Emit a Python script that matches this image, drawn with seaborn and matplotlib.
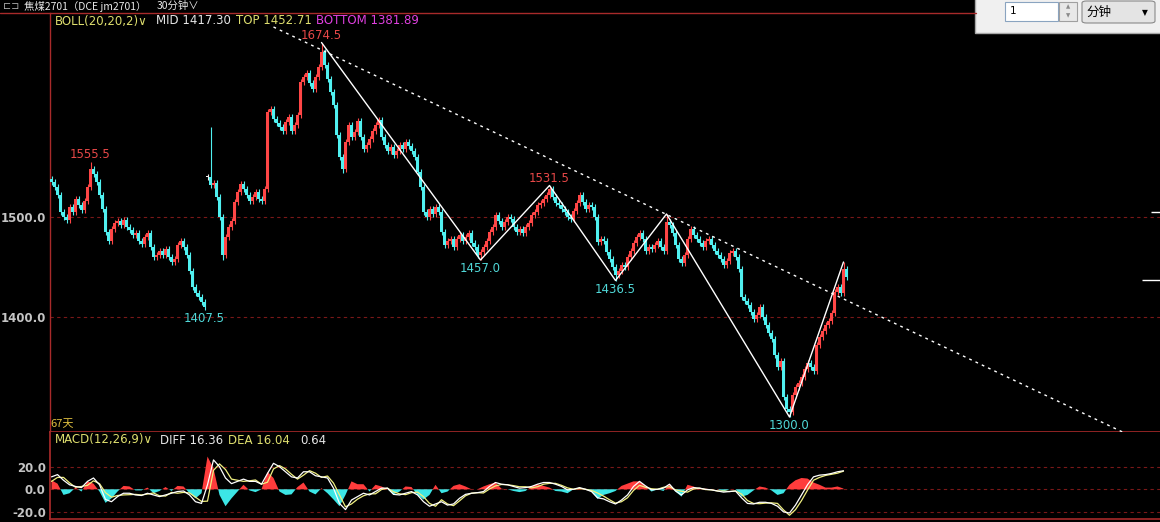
import numpy as np
import pandas as pd
import matplotlib
matplotlib.use("Agg")
import matplotlib.pyplot as plt
import seaborn as sns
from matplotlib.patches import Rectangle, FancyBboxPatch
from matplotlib.lines import Line2D

# ---------------- data ----------------
closes = [
    1535, 1530, 1522, 1505, 1500, 1497, 1510, 1505, 1518, 1512,
    1507, 1516, 1530, 1548, 1543, 1535, 1522, 1508, 1485, 1476,
    1488, 1494, 1496, 1492, 1497, 1490, 1487, 1482, 1484, 1476,
    1473, 1480, 1484, 1470, 1460, 1462, 1466, 1462, 1468, 1460,
    1455, 1458, 1472, 1476, 1470, 1462, 1446, 1430, 1424, 1420,
    1415, 1410, 1540, 1532, 1534, 1520, 1500, 1462, 1480, 1490,
    1496, 1515, 1525, 1533, 1528, 1522, 1516, 1520, 1525, 1518,
    1516, 1528, 1605, 1608, 1598, 1594, 1590, 1586, 1595, 1600,
    1586, 1592, 1602, 1635, 1640, 1644, 1634, 1628, 1640, 1650,
    1665, 1652, 1638, 1625, 1612, 1582, 1560, 1548, 1575, 1592,
    1580, 1585, 1596, 1580, 1568, 1572, 1578, 1586, 1592, 1597,
    1580, 1572, 1566, 1570, 1562, 1566, 1572, 1568, 1575, 1571,
    1566, 1560, 1545, 1530, 1505, 1500, 1508, 1503, 1510, 1505,
    1485, 1472, 1476, 1478, 1470, 1478, 1482, 1476, 1480, 1484,
    1474, 1470, 1462, 1465, 1470, 1476, 1485, 1490, 1502, 1496,
    1490, 1495, 1500, 1498, 1490, 1485, 1488, 1484, 1490, 1494,
    1502, 1505, 1512, 1514, 1518, 1522, 1528, 1520, 1514, 1512,
    1508, 1505, 1500, 1498, 1506, 1514, 1522, 1515, 1508, 1512,
    1510, 1500, 1475, 1478, 1476, 1465, 1458, 1450, 1442, 1446,
    1452, 1450, 1460, 1466, 1474, 1480, 1484, 1478, 1466, 1470,
    1468, 1472, 1476, 1470, 1466, 1495, 1492, 1484, 1472, 1458,
    1454, 1462, 1478, 1488, 1482, 1478, 1474, 1470, 1476, 1478,
    1472, 1466, 1462, 1458, 1452, 1456, 1464, 1466, 1460, 1448,
    1420, 1416, 1412, 1405, 1398, 1402, 1410, 1400, 1392, 1384,
    1378, 1362, 1350, 1356, 1320, 1308, 1305, 1322, 1330, 1334,
    1340, 1348, 1354, 1350, 1346, 1372, 1380, 1386, 1392, 1396,
    1404, 1425, 1430, 1424, 1448, 1440,
]
first_open = 1538
gap_opens = {52: 1540, 53: 1540}
high_marks = {13: 1555.5, 53: 1590.0, 90: 1674.5, 166: 1531.5, 205: 1503.0, 264: 1455.0}
low_marks = {51: 1407.5, 57: 1457.0, 97: 1544.0, 143: 1457.0, 188: 1436.5, 246: 1300.0}

zigzag_idx = [90, 143, 166, 188, 205, 246, 264]
zigzag_px = [1674.5, 1457.0, 1531.5, 1436.5, 1503.0, 1300.0, 1455.0]

peak_labels = {13: 1555.5, 90: 1674.5, 166: 1531.5}
trough_labels = {51: 1407.5, 143: 1457.0, 188: 1436.5, 246: 1300.0}

trend_idx = [74, 357]
trend_px = [1690, 1285]

price_ticks = [1400, 1500]
macd_ticks = [-20, 0, 20]
right_marks = [1505, 1437]

# MACD values, one reading every second bar
diff_vals = [
    11, 13, 8, 4, 2.5, 1.5, 7, 10, 4, -9,
    -11, -6.5, -3.5, -3.5, -5, -5.5, -3.5, -5, -6.5, -5,
    -3.5, -2, -1.5, -5, -11, -12.5, 4, 26, 20, 10,
    5, 7, 9, 7, 7, 4.5, 14, 23, 20, 15.5,
    11, 10, 15.5, 15.5, 12, 11, 10, 1, -12.5, -18,
    -9.5, -6.5, -3.5, -5, -2, 1, 1, -4.5, -5, -3.5,
    -2, -5, -11, -15, -13, -11, -14,
    -13, -8, -4.5, -3.5, -3, -2, 2.5, 6, 4.5, 4,
    2.5, 1, 1.5, 2.5, 4.5, 6, 6, 4.5, 2.5, -0.5,
    0, 1.5, 0, -2, -7.5, -8.5, -11, -13, -9.5, -5,
    2.5, 7, 3, -0.5, 0, 1, 4.5, -1.5, -5, -0.5,
    1.5, 1, 0, -0.5, -1.5, -2.5, -2, -1.5, -7.5, -12.5,
    -13, -11.5, -11.5, -12.5, -15, -20, -21, -14, -5, 4,
    11, 12.5, 13, 14, 15.5, 16.36,
]
hist_vals = [
    8, 5, -5, -3.5, 1.5, -2, 7, 5, -2, -12,
    -8, -2, 3, 2.5, -1, -1, 1.5, -3.5, -1.5, 2,
    -1.5, 3, 2.5, -3.5, -8, -3.5, 29, 18.5, -5, -15,
    -8, -2, 4, -1, -2.5, 0, 15.5, 10, -2, -5,
    -4.5, 2, 6, -2, -4.5, 1, -3.5, -9, -15, -5,
    7, 4.5, 4.5, -2, 4, 2.5, 0, -4.5, -2, 2.5,
    2, -5, -9, -5, 4, -3.5, -2,
    3, 4.5, 2.5, 0, 0, 2.5, 4.5, 6, 0.5, 0,
    -1.5, -2.5, -1.5, 2.5, 4.5, 3, 1.5, -1.5, -2, -3.5,
    0, 1.5, 0, -2, -8.5, -5, -3.5, -1.5, 3, 5,
    7, 7, 2.5, -2, 0, -1.5, 4.5, -2, -6.5, 4,
    2.5, 0, 0.5, 0, 0, -2, 0, 0, -6.5, -5,
    -1, 2.5, 1.5, -1, -5, -3.5, 4, 8, 10, 9.5,
    6, 4, 1.5, 1.5, 2.5, 0.64,
]

# ---------------- styling ----------------
sns.set_theme(style="dark")
plt.rcParams["font.family"] = ["DejaVu Sans", "Noto Sans CJK SC"]
RED_LINE = "#a82a2a"
GRID = "#7a1818"
UP = "#ff4646"
DOWN = "#50f0f0"
TXT_GRAY = "#c4c4c4"
YELLOW = "#dede6e"

W, H = 1160, 522
fig = plt.figure(figsize=(W / 100, H / 100), dpi=100, facecolor="black")


def fx(px):
    return px / W


def fy(py):
    return 1 - py / H


n = len(closes)
idx = np.arange(n)
c = np.array(closes, dtype=float)
o = np.r_[first_open, c[:-1]].astype(float)
for k, v in gap_opens.items():
    o[k] = v
hi = np.maximum(o, c) + 3
lo = np.minimum(o, c) - 3
for k, v in high_marks.items():
    hi[k] = v
for k, v in low_marks.items():
    lo[k] = v

cols = np.where(c > o, UP, np.where(c < o, DOWN, "#f0f0f0"))

# ---------------- price panel ----------------
ax = fig.add_axes([fx(50), fy(432), (W - 50) / W, (432 - 13) / H], facecolor="black")
ax.set_xlim(-0.5, 369.5)
ax.set_ylim(1285, 1704)
for yv in price_ticks:
    ax.axhline(yv, color=GRID, lw=0.8, ls=(0, (3, 3)), zorder=0)
ax.vlines(idx, lo, hi, colors=cols, lw=0.8, zorder=2)
body_h = np.maximum(np.abs(c - o), 0.8)
ax.bar(idx, body_h, bottom=np.minimum(o, c), width=0.75, color=cols, lw=0, zorder=3)

sns.lineplot(x=zigzag_idx, y=zigzag_px, ax=ax, color="white", lw=1.0,
             estimator=None, sort=False, zorder=4)
sns.lineplot(x=trend_idx, y=trend_px, ax=ax, color="white", lw=1.0,
             estimator=None, sort=False, zorder=4)
ax.lines[-1].set_linestyle((0, (2, 3)))

for k, v in peak_labels.items():
    ax.annotate(f"{v:.1f}", (k, v), xytext=(0, 0.5), textcoords="offset points",
                ha="center", va="bottom", color="#e84848", fontsize=8.5)
for k, v in trough_labels.items():
    ax.annotate(f"{v:.1f}", (k, v), xytext=(0, -1.5), textcoords="offset points",
                ha="center", va="top", color="#50d8d8", fontsize=8.5)

for j, v in enumerate(right_marks):
    ax.hlines(v, 366.5 - 3 * j, 369.5, color="white", lw=1.0)

ax.set_yticks(price_ticks)
ax.set_yticklabels([f"{t:.1f}" for t in price_ticks], color=TXT_GRAY, fontsize=8.5,
                   fontweight="bold")
ax.set_xticks([])
ax.set_xlabel("")
ax.set_ylabel("")
ax.tick_params(axis="y", length=0, pad=3)
ax.grid(False)
for s in ["top", "right"]:
    ax.spines[s].set_visible(False)
ax.spines["left"].set_color(RED_LINE)
ax.spines["bottom"].set_color(RED_LINE)
ax.spines["left"].set_linewidth(1.0)
ax.spines["bottom"].set_linewidth(1.2)

# ---------------- MACD panel ----------------
diff = np.array(diff_vals, dtype=float)
hist = np.array(hist_vals, dtype=float)
dea = diff - hist / 2.0
midx = np.arange(0, n, 2)[: len(diff)]

axm = fig.add_axes([fx(50), fy(519), (W - 50) / W, (519 - 432) / H], facecolor="black")
axm.set_xlim(-0.5, 369.5)
axm.set_ylim(-26.3, 50.7)
for yv in macd_ticks:
    axm.axhline(yv, color=GRID, lw=0.8, ls=(0, (3, 3)), zorder=0)
axm.fill_between(midx, 0, hist, where=hist >= 0, interpolate=True,
                 color="#ff3c3c", lw=0, zorder=2)
axm.fill_between(midx, 0, hist, where=hist <= 0, interpolate=True,
                 color="#3ce6e6", lw=0, zorder=2)
sns.lineplot(x=midx, y=dea, ax=axm, color="#f0f080", lw=0.9, estimator=None, zorder=3)
sns.lineplot(x=midx, y=diff, ax=axm, color="white", lw=0.9, estimator=None, zorder=4)
axm.set_yticks(macd_ticks)
axm.set_yticklabels([f"{t:.1f}" for t in macd_ticks], color=TXT_GRAY, fontsize=8.5,
                    fontweight="bold")
axm.set_xticks([])
axm.set_xlabel("")
axm.set_ylabel("")
axm.tick_params(axis="y", length=0, pad=3)
axm.grid(False)
for sname in ["top", "right"]:
    axm.spines[sname].set_visible(False)
axm.spines["left"].set_color(RED_LINE)
axm.spines["bottom"].set_color(RED_LINE)
axm.spines["bottom"].set_linewidth(1.2)

# ---------------- header & texts ----------------
fig.add_artist(Line2D([0, fx(976)], [fy(13), fy(13)], color=RED_LINE, lw=1.0,
                      transform=fig.transFigure))
fig.text(fx(3), fy(6), "⊏⊐", color="#b0b0b0", fontsize=7, va="center",
         family=["DejaVu Sans"])
fig.text(fx(24), fy(6), "焦煤2701（DCE jm2701）", color="#e8e8e8", fontsize=7.5, va="center",
         family=["Noto Sans CJK SC", "DejaVu Sans"])
fig.text(fx(157), fy(6), "30分钟∨", color="#e8e8e8", fontsize=7.5, va="center",
         family=["Noto Sans CJK SC", "DejaVu Sans"])

ty = fy(21)
fig.text(fx(55), ty, "BOLL(20,20,2)∨", color=YELLOW, fontsize=8.5, va="center")
fig.text(fx(156), ty, "MID 1417.30", color="#e6e6e6", fontsize=8.5, va="center")
fig.text(fx(236), ty, "TOP 1452.71", color=YELLOW, fontsize=8.5, va="center")
fig.text(fx(316), ty, "BOTTOM 1381.89", color="#e040e0", fontsize=8.5, va="center")

fig.text(fx(50), fy(424), "67天", color="#e0c040", fontsize=8, va="center",
         family=["Noto Sans CJK SC", "DejaVu Sans"])

my = fy(440)
fig.text(fx(55), my, "MACD(12,26,9)∨", color=YELLOW, fontsize=8.5, va="center")
fig.text(fx(160), my, "DIFF 16.36", color="#e6e6e6", fontsize=8.5, va="center")
fig.text(fx(228), my, "DEA 16.04", color=YELLOW, fontsize=8.5, va="center")
fig.text(fx(300), my, "0.64", color="#e6e6e6", fontsize=8.5, va="center")

# ---------------- dialog (top right) ----------------
def rect(x0, y0, x1, y1, **kw):
    r = Rectangle((fx(x0), fy(y1)), (x1 - x0) / W, (y1 - y0) / H,
                  transform=fig.transFigure, **kw)
    fig.add_artist(r)
    return r

rect(975, -2, 1162, 33, fc="#f0f0f0", ec="#a8a8a8", lw=1.0)
rect(1005, 2, 1058, 21, fc="white", ec="#8aa4c0", lw=0.8)
fig.text(fx(1010), fy(11.5), "1", color="black", fontsize=7.5, va="center")
rect(1059, 2, 1077, 21, fc="#e8e8e8", ec="#a0a0a0", lw=0.8)
fig.text(fx(1068), fy(7), "▲", color="#8a8a8a", fontsize=4, ha="center", va="center")
fig.text(fx(1068), fy(16), "▼", color="#8a8a8a", fontsize=4, ha="center", va="center")
box = FancyBboxPatch((fx(1082), fy(23)), 73 / W, 22 / H, boxstyle="round,pad=0,rounding_size=0.004",
                     transform=fig.transFigure, fc="#e4e4e4", ec="#8a8a8a", lw=0.8)
fig.add_artist(box)
fig.text(fx(1086), fy(12), "分钟", color="black", fontsize=9, va="center",
         family=["Noto Sans CJK SC", "DejaVu Sans"])
fig.text(fx(1145), fy(12.5), "▼", color="black", fontsize=5.5, ha="center", va="center")

fig.savefig("out.png", dpi=100, facecolor="black")
